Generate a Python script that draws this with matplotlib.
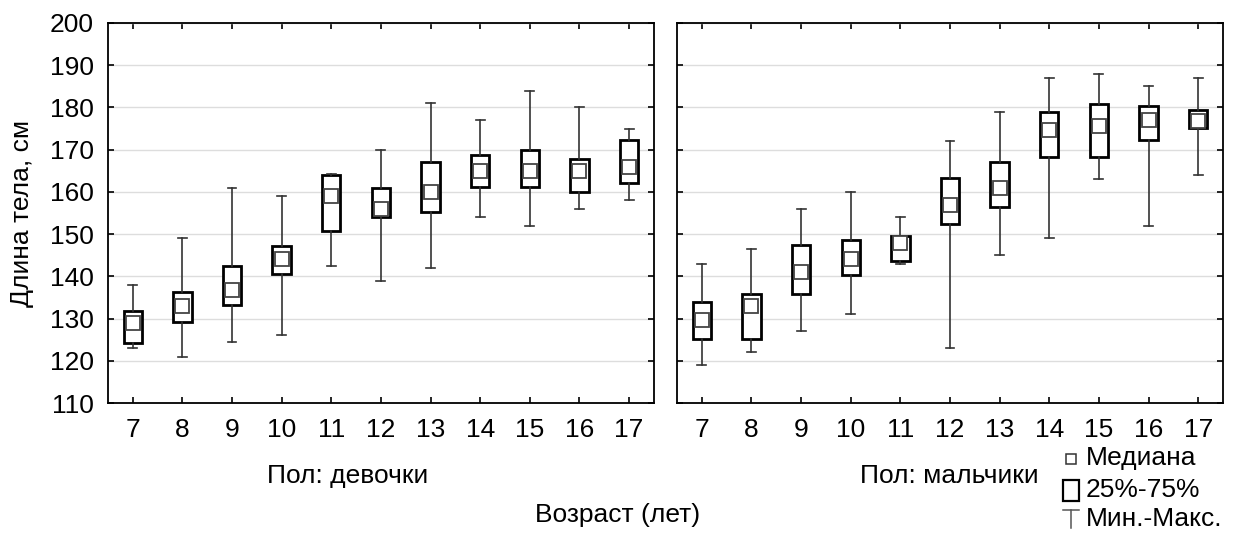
import numpy as np
import matplotlib
matplotlib.use('Agg')
import matplotlib.pyplot as plt
from matplotlib.lines import Line2D
from matplotlib.patches import Rectangle

plt.rcParams['font.family'] = ['Liberation Sans', 'DejaVu Sans']

# DATOS
vozrast = [7, 8, 9, 10, 11, 12, 13, 14, 15, 16, 17]

# девочки
d_med = [129, 133, 136.7, 144, 159, 156, 160, 165, 165, 165, 166]
d_q1 = [124.3, 129.1, 133.1, 140.5, 150.7, 154.1, 155.3, 161.2, 161.2, 160, 162.2]
d_q3 = [131.7, 136.2, 142.4, 147.3, 164, 160.9, 167, 168.8, 170, 167.8, 172.3]
d_min = [123, 121, 124.5, 126, 142.5, 139, 142, 154, 152, 156, 158]
d_max = [138, 149, 161, 159, 164.2, 170, 181, 177, 184, 180, 175]

# мальчики
m_med = [129.6, 133, 141, 144, 148, 157, 161, 174.6, 175.5, 177, 176.7]
m_q1 = [125.1, 125.1, 135.7, 140.2, 143.7, 152.5, 156.3, 168.2, 168.2, 172.2, 175.1]
m_q3 = [133.9, 135.8, 147.5, 148.5, 149.5, 163.3, 167, 178.9, 180.8, 180.3, 179.3]
m_min = [119, 122, 127, 131, 143, 123, 145, 149, 163, 152, 164]
m_max = [143, 146.5, 156, 160, 154, 172, 179, 187, 188, 185, 187]

paneles = [('Пол: девочки', d_med, d_q1, d_q3, d_min, d_max),
           ('Пол: мальчики', m_med, m_q1, m_q3, m_min, m_max)]

# GRAFICA
W, H = 1235, 533
fig = plt.figure(figsize=(W/100, H/100), dpi=100)
ax1 = fig.add_axes([0.0874, 0.2439, 0.4421, 0.713])
ax2 = fig.add_axes([0.5482, 0.2439, 0.4421, 0.713])

fs = 19
for ax, (titulo, med, q1, q3, mn, mx) in zip([ax1, ax2], paneles):
    stats = []
    for i in range(len(vozrast)):
        stats.append({'med': med[i], 'q1': q1[i], 'q3': q3[i],
                      'whislo': mn[i], 'whishi': mx[i], 'fliers': []})
    ax.bxp(stats, positions=vozrast, widths=0.37, capwidths=0.18,
           showfliers=False, patch_artist=True,
           boxprops=dict(facecolor='white', edgecolor='black', linewidth=2.0),
           whiskerprops=dict(color='#333333', linewidth=1.2),
           capprops=dict(color='#333333', linewidth=1.2),
           medianprops=dict(linewidth=0))
    ax.plot(vozrast, med, linestyle='none', marker='s', markersize=9.5,
            markerfacecolor='white', markeredgecolor='#444444',
            markeredgewidth=1.3, zorder=5)

    ax.set_xlim(6.5, 17.5)
    ax.set_ylim(110, 200)
    ax.set_xticks(vozrast)
    ax.set_xticklabels([str(v) for v in vozrast])
    ax.set_yticks(np.arange(110, 201, 10))
    ax.yaxis.grid(True, color='#dddddd', linewidth=1)
    ax.set_axisbelow(True)
    ax.tick_params(direction='in', length=4, width=1.2, top=True, right=True,
                   labelsize=fs)
    ax.tick_params(axis='x', pad=11)
    ax.tick_params(axis='y', pad=10)
    for s in ax.spines.values():
        s.set_linewidth(1.3)

ax2.tick_params(labelleft=False)
fig.text(22/W, 1 - 213/H, 'Длина тела, см', fontsize=fs, rotation=90,
         ha='center', va='center')

fig.text(348/W, 1 - 483/H, 'Пол: девочки', fontsize=fs,
         ha='center', va='baseline')
fig.text(949/W, 1 - 483/H, 'Пол: мальчики', fontsize=fs,
         ha='center', va='baseline')
fig.text(618/W, 1 - 522/H, 'Возраст (лет)', fontsize=fs,
         ha='center', va='baseline')

# Leyenda
fig.add_artist(Line2D([1071/W], [1 - 459/H], marker='s', markersize=7.5,
                      markerfacecolor='white', markeredgecolor='#333333',
                      markeredgewidth=1.1, linestyle='none',
                      transform=fig.transFigure))
fig.add_artist(Rectangle((1063/W, 1 - 501/H), 16/W, 21/H, fill=False,
                         edgecolor='black', linewidth=1.6,
                         transform=fig.transFigure))
fig.add_artist(Line2D([1071/W, 1071/W], [1 - 510/H, 1 - 528/H],
                      color='#555555', linewidth=1.1,
                      transform=fig.transFigure))
fig.add_artist(Line2D([1063/W, 1079/W], [1 - 510/H, 1 - 510/H],
                      color='#555555', linewidth=1.1,
                      transform=fig.transFigure))
fig.text(1086/W, 1 - 465/H, 'Медиана', fontsize=fs, va='baseline')
fig.text(1086/W, 1 - 497/H, '25%-75%', fontsize=fs, va='baseline')
fig.text(1086/W, 1 - 526/H, 'Мин.-Макс.', fontsize=fs, va='baseline')

plt.savefig('out.png', dpi=100)
